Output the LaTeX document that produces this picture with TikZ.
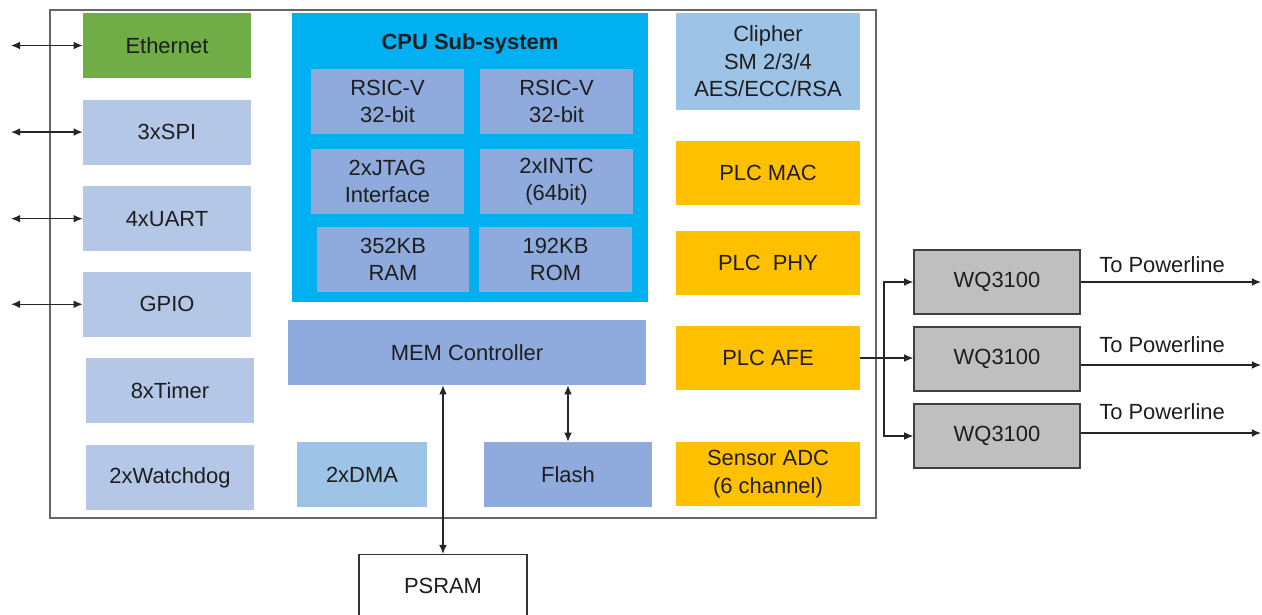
\documentclass[tikz,border=0pt]{standalone}
\usepackage{fontspec}
\setmainfont{Liberation Sans}
\usepackage{tikz}
\usetikzlibrary{arrows.meta}
\usetikzlibrary{positioning}
\usetikzlibrary{calc}
\definecolor{ethgreen}{HTML}{70AD47}
\definecolor{periph}{HTML}{B4C7E7}
\definecolor{midblue}{HTML}{8FAADC}
\definecolor{paleblue}{HTML}{9DC3E6}
\definecolor{cpublue}{HTML}{00B0F0}
\definecolor{plcorange}{HTML}{FFC000}
\definecolor{wqgray}{HTML}{BFBFBF}
\definecolor{txtgray}{HTML}{1E1E1E}
\tikzset{blk/.style={inner sep=0pt, align=center, text=txtgray,
                     font=\fontsize{15.6}{19.6}\selectfont}}
\tikzset{sz/.style n args={2}{minimum width=#1, minimum height=#2}}
\tikzset{periph/.style={blk, fill=periph, sz={4.2cm}{1.625cm}}}
\tikzset{core/.style={blk, fill=midblue, sz={3.825cm}{1.625cm}}}
\tikzset{plc/.style={blk, fill=plcorange, sz={4.6cm}{1.6cm}}}
\tikzset{wq/.style={blk, fill=wqgray, draw=black!75, line width=0.9pt, sz={4.15cm}{1.6cm}}}
\tikzset{conn/.style={line width=0.9pt, black!85, >={Latex[length=6.5pt,width=5.5pt]}}}
\tikzset{lbl/.style={blk, anchor=south west}}

\begin{document}
\begin{tikzpicture}[x=0.025cm, y=-0.025cm]
   \useasboundingbox (0,0) rectangle (1262,614);

   % chip outline
   \node[draw=black!60, line width=1.2pt, fill=white, sz={20.65cm}{12.7cm}] (chip) at (463,264) {};

   % left peripherals
   \node[blk, fill=ethgreen, sz={4.2cm}{1.625cm}] (eth) at (167,45.5) {Ethernet};
   \node[periph] (spi) [below=0.525cm of eth] {3xSPI};
   \node[periph] (uart) [below=0.525cm of spi] {4xUART};
   \node[periph] (gpio) [below=0.5cm of uart] {GPIO};
   \node[periph] (timer) [below=0.525cm of gpio, xshift=0.075cm] {8xTimer};
   \node[periph] (wdog) [below=0.525cm of timer] {2xWatchdog};

   % cpu sub-system
   \node[fill=cpublue, sz={8.9cm}{7.225cm}] (cpu) at (470,157.5) {};
   \node[blk, font=\fontsize{15.6}{19.6}\selectfont\bfseries] (cputitle) at (470,44) {CPU Sub-system};
   \node[core] (rv1) at (387.5,101.5) {RSIC-V\\32-bit};
   \node[core] (rv2) at (556.5,101.5) {RSIC-V\\32-bit};
   \node[core] (jtag) at (387.5,181.5) {2xJTAG\\Interface};
   \node[core] (intc) at (556.5,181.5) {2xINTC\\(64bit)};
   \node[core, minimum width=3.8cm] (ram) at (393,259.5) {352KB\\RAM};
   \node[core] (rom) at (555.5,259.5) {192KB\\ROM};

   % memory
   \node[blk, fill=midblue, sz={8.95cm}{1.625cm}] (mem) at (467,352.5) {MEM Controller};
   \node[blk, fill=paleblue, sz={3.25cm}{1.625cm}] (dma) at (362,474.5) {2xDMA};
   \node[blk, fill=midblue, sz={4.2cm}{1.625cm}] (flash) at (568,474.5) {Flash};
   \node[blk, fill=white, draw=black!80, line width=0.9pt, sz={4.2cm}{1.8cm}, anchor=north] (psram) at (443,554) {};
   \node[blk] (psramtxt) at (443,586) {PSRAM};

   % right column
   \node[blk, fill=paleblue, sz={4.6cm}{2.425cm}] (cipher) at (768,61.5) {Clipher\\SM 2/3/4\\AES/ECC/RSA};
   \node[plc] (mac) at (768,173) {PLC MAC};
   \node[plc] (phy) at (768,263) {PLC\ \ PHY};
   \node[plc] (afe) at (768,358) {PLC AFE};
   \node[plc] (adc) at (768,474) {Sensor ADC\\(6 channel)};

   % line drivers
   \node[wq] (wq1) at (997,282) {WQ3100};
   \node[wq] (wq2) at (997,359) {WQ3100};
   \node[wq] (wq3) at (997,436) {WQ3100};

   \coordinate (edge) at (11,0);
   \coordinate (trunk) at (884,0);
   \coordinate (out) at (1261,0);
   \coordinate (wq2o) at ([yshift=-0.15cm]wq2.east);
   \coordinate (wq3o) at ([yshift=0.075cm]wq3.east);

   \foreach \n in {eth,spi,uart,gpio}
      \draw[conn,<->] (edge |- \n.west) -- (\n.west);

   \draw[conn,<->] (mem.south -| psram.north) -- (psram.north);
   \draw[conn,<->] (mem.south -| flash.north) -- (flash.north);

   \draw[conn,->] (afe.east) -- (wq2.west |- afe.east);
   \draw[conn,->] (trunk |- afe.east) |- (wq1.west);
   \draw[conn,->] (trunk |- afe.east) |- (wq3.west);

   \draw[conn,->] (wq1.east) -- (out |- wq1.east)
      node[lbl, pos=0, xshift=0.45cm, yshift=0.22cm] (pl1) {To Powerline};
   \draw[conn,->] (wq2o) -- (out |- wq2o)
      node[lbl, pos=0, xshift=0.45cm, yshift=0.3cm] (pl2) {To Powerline};
   \draw[conn,->] (wq3o) -- (out |- wq3o)
      node[lbl, pos=0, xshift=0.45cm, yshift=0.32cm] (pl3) {To Powerline};
\end{tikzpicture}
\end{document}
